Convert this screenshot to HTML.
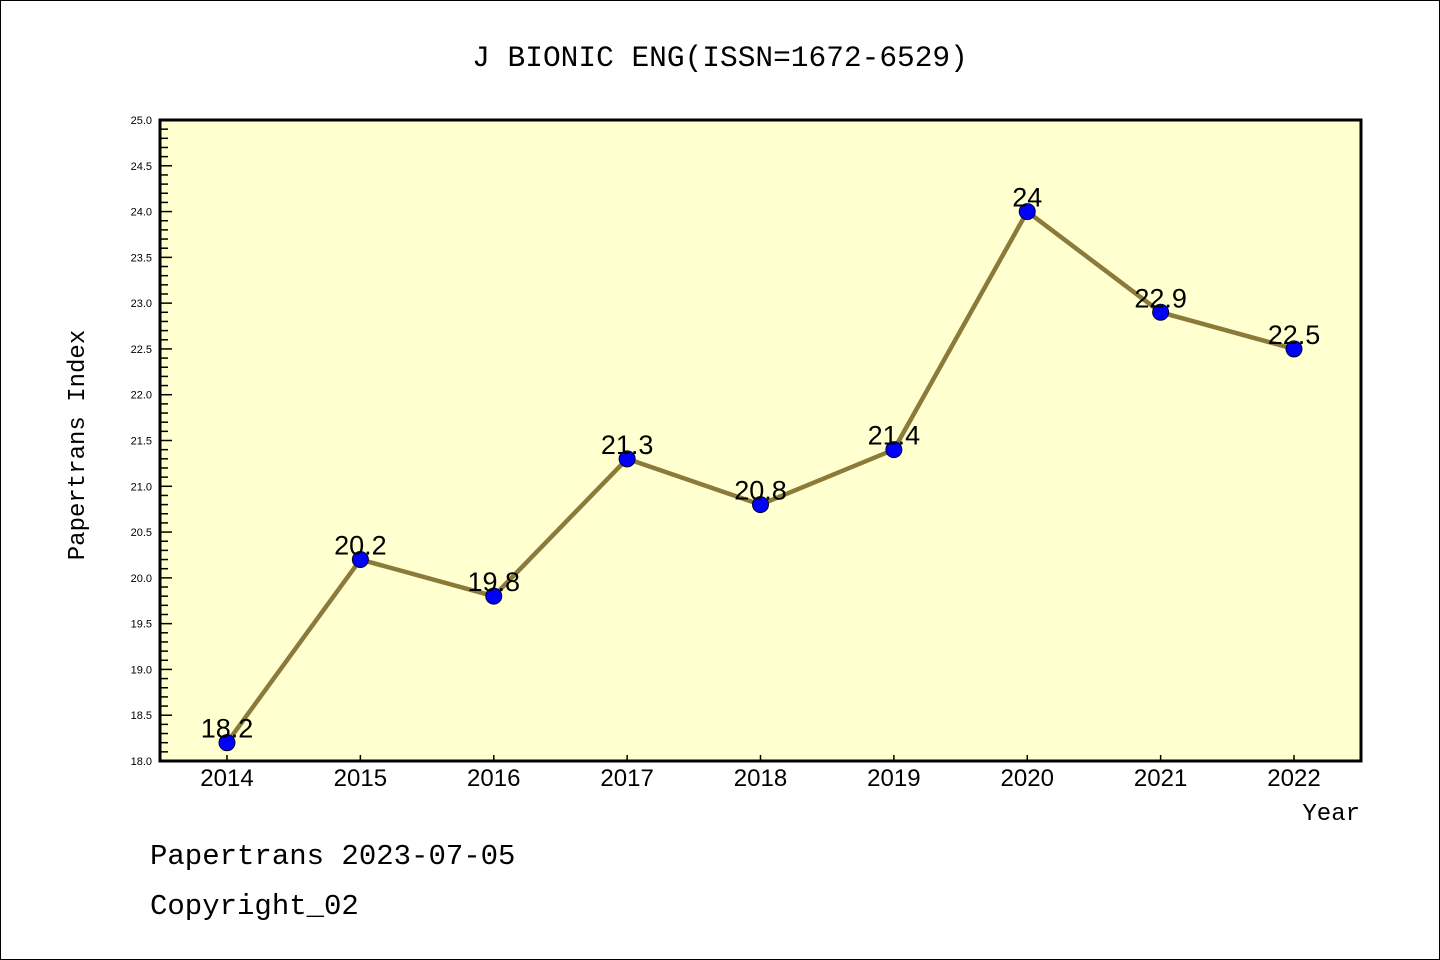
<!DOCTYPE html>
<html><head><meta charset="utf-8"><style>
html,body{margin:0;padding:0;background:#fff}
svg{display:block}
.mono{font-family:"Liberation Mono","WenQuanYi Zen Hei",monospace}
.sans{font-family:"Liberation Sans","WenQuanYi Zen Hei",sans-serif}
</style></head><body>
<svg id="chart" width="1440" height="960" xmlns="http://www.w3.org/2000/svg">
<rect x="0.5" y="0.5" width="1439" height="959" fill="#fff" stroke="#000"/>
<text x="720" y="66" text-anchor="middle" font-size="29.5" class="mono">J BIONIC ENG(ISSN=1672-6529)</text>
<rect x="160" y="120" width="1201" height="641" fill="#ffffd0"/>
<g id="yaxis"></g>
<g id="xaxis"></g>
<g id="series"></g>
<rect x="160" y="120" width="1201" height="641" fill="none" stroke="#000" stroke-width="3"/>
<text transform="translate(84,445) rotate(-90)" text-anchor="middle" font-size="24" class="mono">Papertrans Index</text>
<text x="1360" y="820" text-anchor="end" font-size="24" class="mono">Year</text>
<text x="150" y="864" font-size="29" class="mono">Papertrans 2023-07-05</text>
<text x="150" y="914" font-size="29" class="mono">Copyright_02</text>
</svg>
<script>
const categories=["2014","2015","2016","2017","2018","2019","2020","2021","2022"];
const values=[18.2,20.2,19.8,21.3,20.8,21.4,24,22.9,22.5];
const yTickLabels=["18.0","18.5","19.0","19.5","20.0","20.5","21.0","21.5","22.0","22.5","23.0","23.5","24.0","24.5","25.0"];
const yMin=18,yMax=25;
const NS="http://www.w3.org/2000/svg";
const x0=227,x1=1294,plotTop=120,plotBot=761;
function xs(i){return x0+(x1-x0)*i/(categories.length-1);}
function ys(v){return plotBot-(v-yMin)*(plotBot-plotTop)/(yMax-yMin);}
function mk(tag,attrs,parent){const e=document.createElementNS(NS,tag);for(const k in attrs)e.setAttribute(k,attrs[k]);parent.appendChild(e);return e;}
const ya=document.getElementById('yaxis'),xa=document.getElementById('xaxis'),sg=document.getElementById('series');
for(let k=0;k<=70;k++){const v=yMin+k*0.1;const y=ys(v);const major=k%5===0;
 const t=mk('line',{x1:160,x2:major?172:168,y1:y,y2:y,stroke:'#000','stroke-width':1.5},ya);
 
 }
yTickLabels.forEach(l=>{const t=mk('text',{x:152,y:ys(parseFloat(l))+4,'text-anchor':'end','font-size':11,class:'sans'},ya);t.textContent=l;
 
 });
categories.forEach((c,i)=>{const x=xs(i);
 const t=mk('line',{x1:x,x2:x,y1:plotBot-6,y2:plotBot,stroke:'#000','stroke-width':1.5},xa);
 
 
 const l=mk('text',{x:x,y:786,'text-anchor':'middle','font-size':24,class:'sans'},xa);l.textContent=c;
 
 });
const pts=values.map((v,i)=>xs(i)+','+ys(v)).join(' ');
const pl=mk('polyline',{points:pts,fill:'none',stroke:'#8b7a3a','stroke-width':4.5,'stroke-linejoin':'round'},sg);


values.forEach((v,i)=>{const c=mk('circle',{cx:xs(i),cy:ys(v),r:8,fill:'#0000ff',stroke:'#000033','stroke-width':1},sg);
 
 
 const t=mk('text',{x:xs(i),y:ys(v)-5,'text-anchor':'middle','font-size':27,class:'sans'},sg);t.textContent=String(v);
 
 });
</script>
</body></html>
